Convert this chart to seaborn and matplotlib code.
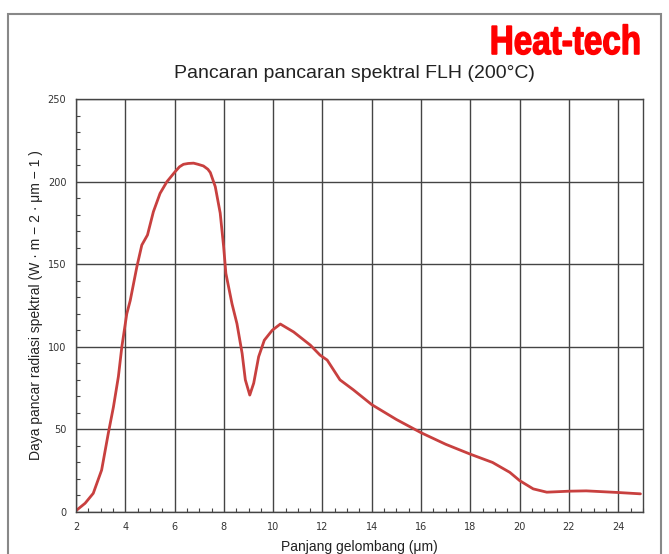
import pandas as pd
import matplotlib.pyplot as plt
import seaborn as sns
from matplotlib.patches import Rectangle, PathPatch
from matplotlib.textpath import TextPath
from matplotlib.font_manager import FontProperties
from matplotlib.transforms import Affine2D, IdentityTransform
from matplotlib.ticker import MultipleLocator

# Values
wavelength = [2.0, 2.37, 2.7, 3.04, 3.31, 3.52, 3.72, 3.86, 4.06, 4.2, 4.47,
              4.67, 4.9, 5.14, 5.41, 5.69, 6.02, 6.2, 6.36, 6.55, 6.77, 6.95,
              7.17, 7.35, 7.45, 7.65, 7.85, 7.99, 8.08, 8.33, 8.53, 8.74, 8.87,
              9.05, 9.21, 9.41, 9.64, 9.96, 10.29, 10.83, 11.51, 11.9, 12.19,
              12.71, 13.25, 14.0, 15.0, 16.0, 17.0, 18.0, 18.9, 19.6, 20.0,
              20.55, 21.1, 22.0, 22.7, 24.0, 24.9]
radiance = [0.8, 5.3, 11.3, 25.4, 47.6, 63.7, 82, 100, 120, 128, 148.5,
            161.6, 167.7, 181.8, 192.9, 200, 206, 209, 210.5, 211, 211.2, 210.5,
            209.5, 207.5, 205.5, 197, 181, 160.6, 144.5, 126, 114, 96, 80,
            70.8, 78, 94, 104, 110, 113.8, 109, 101, 95, 92,
            80, 74, 65, 56, 48, 41, 35, 30, 24, 19,
            14, 12, 12.6, 12.8, 11.8, 11]

title = "Pancaran pancaran spektral FLH (200°C)"
brand = "Heat-tech"
xlabel = "Panjang gelombang (μm)"
ylabel = "Daya pancar radiasi spektral (W · m − 2 · μm − 1 )"

df = pd.DataFrame({"x": wavelength, "y": radiance})

sns.set_theme(style="white")
plt.rcParams['font.family'] = ['Liberation Sans', 'DejaVu Sans']

fig = plt.figure(figsize=(6.69, 5.54), dpi=100)
ax = fig.add_axes([0.1136, 0.0758, 0.8474, 0.7454])

sns.lineplot(data=df, x="x", y="y", ax=ax, color="#c8403f", linewidth=2)

ax.set_xlim(2, 25)
ax.set_ylim(0, 250)
ax.xaxis.set_major_locator(MultipleLocator(2))
ax.xaxis.set_minor_locator(MultipleLocator(0.5))
ax.yaxis.set_major_locator(MultipleLocator(50))
ax.yaxis.set_minor_locator(MultipleLocator(10))
ax.grid(True, which="major", color="#444444", linewidth=1)
ax.tick_params(which="both", direction="in", bottom=True, left=True,
               colors="#444444", labelcolor="#333333")
ax.tick_params(which="major", length=0, labelsize=7, pad=7)
ax.tick_params(which="minor", length=3, width=0.8)
for lbl in ax.get_xticklabels() + ax.get_yticklabels():
    lbl.set_family("DejaVu Sans")
for s in ax.spines.values():
    s.set_color("#444444")
    s.set_linewidth(1)

ax.set_xlabel(xlabel, fontsize=10, color="#222222", labelpad=6)
ax.set_ylabel(ylabel, fontsize=10, color="#222222", labelpad=3)

fig.text(0.53, 0.867, title, ha="center", va="center", fontsize=14, color="#222222")

# condensed bold brand logo, squeezed from Liberation Sans Bold
tp = TextPath((0, 0), brand, size=100,
              prop=FontProperties(family="Liberation Sans", weight="bold"))
ext = tp.get_extents()
logo = tp.transformed(Affine2D().translate(-ext.x0, -ext.y0)
                      .scale(147 / ext.width, 30 / ext.height)
                      .translate(492, 554 - 54.5))
fig.patches.append(PathPatch(logo, transform=IdentityTransform(),
                             facecolor="#ff0000", edgecolor="#ff0000",
                             linewidth=1.0))

# outer frame
fig.patches.append(Rectangle((8 / 669, -0.01), 653 / 669, 1 - 14 / 554 + 0.01,
                             transform=fig.transFigure, fill=False,
                             edgecolor="#888888", linewidth=1.5))

plt.savefig("out.png", dpi=100)
